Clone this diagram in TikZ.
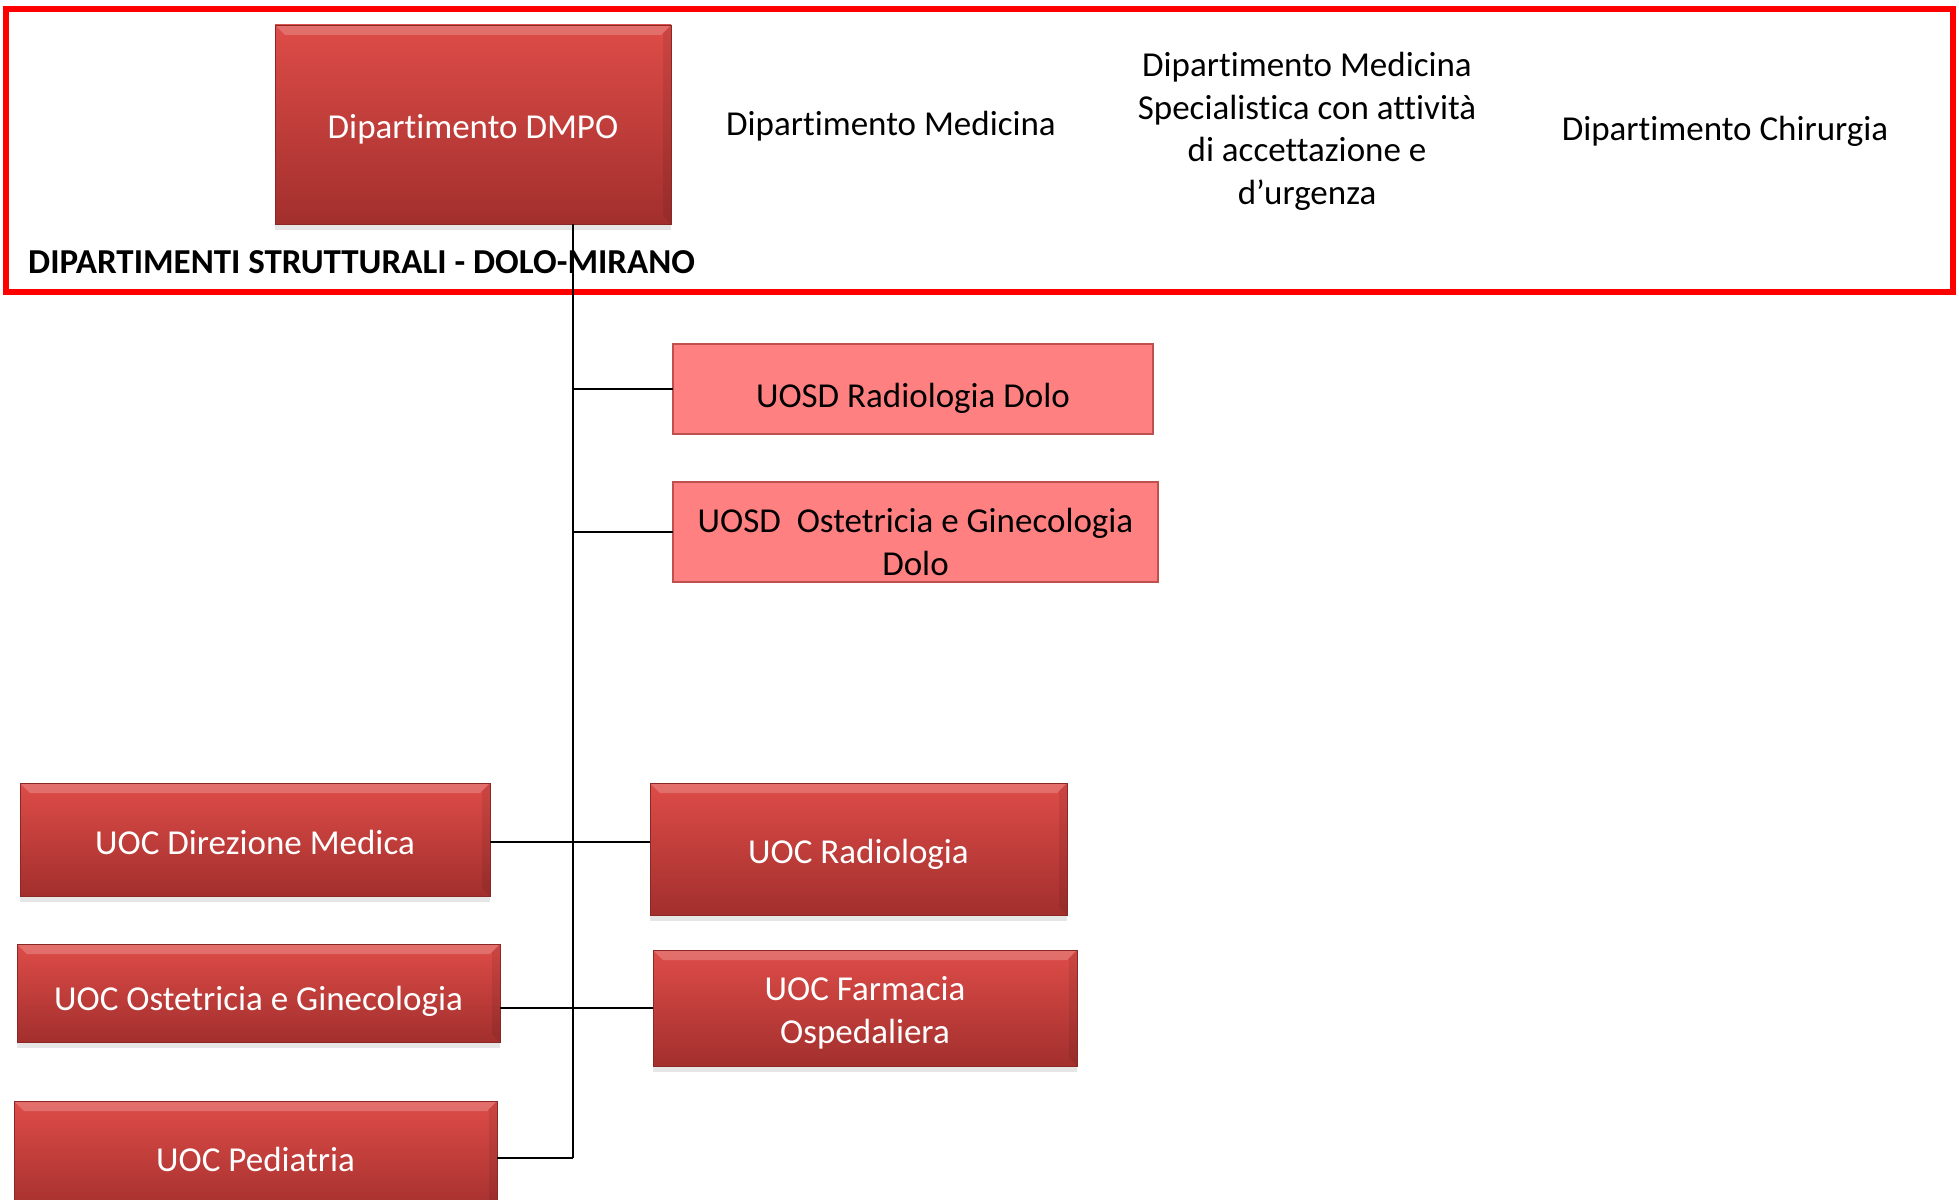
\documentclass[tikz,border=0pt]{standalone}
\usepackage{fontspec}
\setmainfont[Ligatures=NoCommon]{Carlito}
\usetikzlibrary{shadows}

\definecolor{boxtop}{RGB}{222,76,72}
\definecolor{boxbot}{RGB}{162,47,45}
\definecolor{uosdfill}{RGB}{255,128,128}
\definecolor{uosdline}{RGB}{192,80,77}

\begin{document}
\begin{tikzpicture}[x=1pt, y=-1pt,
  uoc/.style={rectangle, outer sep=0pt, text=white, align=center, text height=31pt,
    top color=boxtop, bottom color=boxbot, draw=boxbot!85!black, line width=0.6pt,
    drop shadow={shadow xshift=0pt, shadow yshift=-6pt, opacity=0.2},
    font=\fontsize{35}{42.5}\selectfont,
    path picture={\fill[white, opacity=0.2] (path picture bounding box.north west) -- (path picture bounding box.north east)
      -- ([xshift=-10pt, yshift=-10pt]path picture bounding box.north east) -- ([xshift=10pt, yshift=-10pt]path picture bounding box.north west) -- cycle;
      \fill[black, opacity=0.08] (path picture bounding box.north east) -- (path picture bounding box.south east)
      -- ([xshift=-8pt, yshift=8pt]path picture bounding box.south east) -- ([xshift=-8pt, yshift=-8pt]path picture bounding box.north east) -- cycle;}},
  uosd/.style={rectangle, outer sep=0pt, fill=uosdfill, draw=uosdline, line width=2.5pt,
    align=center, font=\fontsize{35}{42.5}\selectfont},
  dept/.style={align=center, font=\fontsize{35}{42.5}\selectfont},
  link/.style={black, line width=2pt}]
\useasboundingbox (0,0) rectangle (1959,1199);
\draw[red, line width=6pt] (6,9) rectangle (1953,292); % frame
% departments
\node[uoc, text height=33pt, minimum width=396pt, minimum height=199pt] (dmpo) at (473,124.5) {Dipartimento DMPO};
\node[dept] (dmed) at (891,126.5) {Dipartimento Medicina};
\node[dept] (dspec) at (1307,131.5) {Dipartimento Medicina\\Specialistica con attività\\di accettazione e\\d’urgenza};
\node[dept] (dchir) at (1725,131.5) {Dipartimento Chirurgia};
\node[anchor=west, inner sep=0pt, font=\fontsize{35}{40}\selectfont\bfseries] (title) at (28,262) {DIPARTIMENTI STRUTTURALI - DOLO-MIRANO};
% units
\node[uosd, text height=44pt, minimum width=480pt, minimum height=90pt] (uosdrad) at (913,389) {UOSD Radiologia Dolo};
\node[uosd, minimum width=485pt, minimum height=100pt] (uosdost) at (915.5,532) {\rule{0pt}{44pt}UOSD\ \ Ostetricia e Ginecologia\\Dolo};
\node[uoc, minimum width=470pt, minimum height=113pt] (dirmed) at (255,839.5) {UOC Direzione Medica};
\node[uoc, text height=34pt, minimum width=417pt, minimum height=132pt] (radiol) at (858.5,849) {UOC Radiologia};
\node[uoc, text height=40pt, minimum width=483pt, minimum height=98pt] (ostgin) at (258.5,993) {UOC Ostetricia e Ginecologia};
\node[uoc, text height={}, minimum width=424pt, minimum height=116pt] (farm) at (865,1008) {\rule{0pt}{34pt}UOC Farmacia\\Ospedaliera};
\node[uoc, text height=27pt, minimum width=483pt, minimum height=114pt] (pedia) at (255.5,1158) {UOC Pediatria};
% connectors
\coordinate (trunk) at (573,1158);
\draw[link] (trunk |- dmpo.south) -- (trunk); % trunk
\draw[link] (trunk |- uosdrad.west) -- (uosdrad.west);
\draw[link] (trunk |- uosdost.west) -- (uosdost.west);
\draw[link] (dirmed.east |- 0,842) -- (radiol.west |- 0,842);
\draw[link] (ostgin.east |- farm.west) -- (farm.west);
\draw[link] (pedia.east) -- (trunk);
\end{tikzpicture}
\end{document}
